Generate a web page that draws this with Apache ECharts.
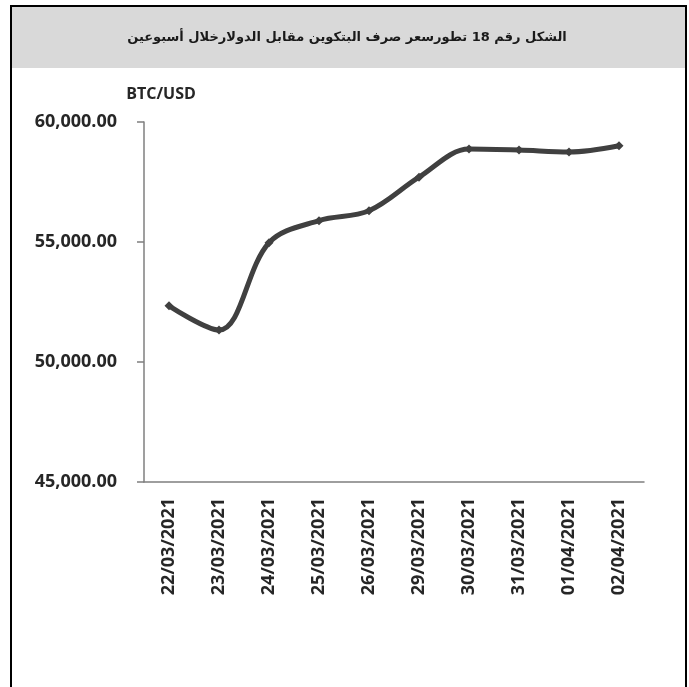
<!DOCTYPE html>
<html>
<head>
<meta charset="utf-8">
<script src="https://cdn.jsdelivr.net/npm/echarts@6/dist/echarts.min.js"></script>
<style>
html,body{margin:0;padding:0;background:#fff;}
#chart{width:689px;height:687px;}
</style>
</head>
<body>
<div id="chart"></div>
<script>
var dates=['22/03/2021','23/03/2021','24/03/2021','25/03/2021','26/03/2021','29/03/2021','30/03/2021','31/03/2021','01/04/2021','02/04/2021'];
var btcUsd=[52340, 51330, 54970, 55890, 56300, 57700, 58870, 58830, 58750, 59010];
var yTicks=[45000, 50000, 55000, 60000];
var titleText='الشكل رقم 18 تطورسعر صرف البتكوين مقابل الدولارخلال أسبوعين';

function fmt(v){
	return v.toLocaleString('en-US',{minimumFractionDigits:2,maximumFractionDigits:2});
}

var myChart=echarts.init(document.getElementById('chart'));
var option={
	backgroundColor:'#fff',
	animation:false,
	graphic:[
		{type:'rect',shape:{x:11,y:7,width:675,height:61},style:{fill:'#d9d9d9'},silent:true},
		{type:'polyline',shape:{points:[[11,687],[11,6],[686,6],[686,687]]},style:{stroke:'#000',lineWidth:2,fill:null},silent:true},
		{type:'text',x:347,y:38,style:{text:titleText,font:'bold 13px "DejaVu Sans"',fill:'#1a1a1a',align:'center',verticalAlign:'middle'},silent:true}
	],
	grid:{left:144,right:45,top:122,bottom:205},
	xAxis:{
		type:'category',
		data:dates,
		boundaryGap:true,
		axisLine:{lineStyle:{color:'#7f7f7f',width:1.5}},
		axisTick:{length:6,lineStyle:{color:'#7f7f7f',width:1.5}},
		axisLabel:{
			rotate:90,
			margin:16,
			color:'#262626',
			fontFamily:'Open Sans',
			fontWeight:'bold',
			fontSize:18
		}
	},
	yAxis:{
		type:'value',
		min:yTicks[0],
		max:yTicks[yTicks.length-1],
		interval:5000,
		name:'BTC/USD',
		nameLocation:'end',
		nameGap:20,
		nameTextStyle:{color:'#262626',fontFamily:'Open Sans',fontWeight:'bold',fontSize:16,align:'center',padding:[0,0,0,34]},
		splitLine:{show:false},
		axisLine:{show:true,lineStyle:{color:'#7f7f7f',width:1.5}},
		axisTick:{show:true,length:7,lineStyle:{color:'#7f7f7f',width:1.5}},
		axisLabel:{
			margin:27,
			color:'#262626',
			fontFamily:'Open Sans',
			fontWeight:'bold',
			fontSize:18,
			formatter:function(v){return fmt(v);}
		}
	},
	series:[{
		name:'BTC/USD',
		type:'line',
		data:btcUsd,
		smooth:0.35,
		symbol:'diamond',
		symbolSize:9,
		itemStyle:{color:'#404040'},
		lineStyle:{color:'#404040',width:5}
	}]
};
myChart.setOption(option);
</script>
</body>
</html>
